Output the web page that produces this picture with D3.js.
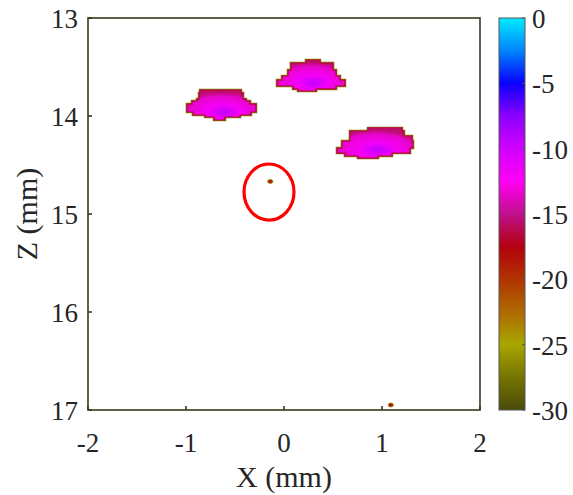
<!DOCTYPE html>
<html><head><meta charset="utf-8">
<script src="https://cdn.jsdelivr.net/npm/d3@7"></script>
<style>html,body{margin:0;padding:0;background:#fff;}svg{display:block;}</style>
</head><body>
<script>
// ---- data ----
const xTicks = [-2, -1, 0, 1, 2];
const zTicks = [13, 14, 15, 16, 17];
const cbTicks = [0, -5, -10, -15, -20, -25, -30];
const cmapValues = [0, -2.5, -5, -7.5, -10, -12.5, -15, -17.5, -20, -22.5, -25, -27.5, -30];
const cmapColors = ["#00ecff", "#0084ff", "#0a00ff", "#8c00ff", "#d000ff", "#ff00f4", "#c0108c", "#b4000e", "#b03400", "#b06a00", "#a8a600", "#767400", "#4a4a0c"];
// blob rows: [zTop, zBottom, xLeft, xRight] (mm)
const blob1 = [[13.735,13.765,-0.857,-0.439],[13.765,13.827,-0.867,-0.418],[13.827,13.847,-0.888,-0.388],[13.847,13.878,-0.939,-0.347],[13.878,13.959,-0.990,-0.286],[13.959,13.990,-0.929,-0.337],[13.990,14.010,-0.806,-0.449],[14.010,14.041,-0.714,-0.602]];
const blob2 = [[13.429,13.459,0.224,0.367],[13.459,13.531,0.071,0.500],[13.531,13.592,0.041,0.531],[13.592,13.633,-0.020,0.571],[13.633,13.694,-0.071,0.622],[13.694,13.724,0.092,0.531],[13.724,13.745,0.143,0.327]];
const blob3 = [[14.122,14.153,0.857,1.204],[14.153,14.204,0.673,1.224],[14.204,14.255,0.673,1.306],[14.255,14.327,0.592,1.316],[14.327,14.378,0.541,1.286],[14.378,14.408,0.622,1.102],[14.408,14.429,0.755,0.959]];
const blobs = [blob1, blob2, blob3];
const blobLevels = [-9.5, -12, -13.5, -15.5]; // center -> edge values (dB)
const dots = [[-0.14, 14.668, -19], [1.09, 16.949, -18]]; // x, z, value
const circle = {x: -0.153, z: 14.776, rx: 0.255, rz: 0.286};

// ---- layout ----
const W = 573, H = 495;
const svg = d3.select("body").append("svg").attr("width", W).attr("height", H);
const x = d3.scaleLinear().domain([-2, 2]).range([88, 480]);
const z = d3.scaleLinear().domain([13, 17]).range([18, 410]);
const cb = d3.scaleLinear().domain([-30, 0]).range([410, 18]);
const cmap = d3.scaleLinear().domain(cmapValues).range(cmapColors).interpolate(d3.interpolateRgb).clamp(true);
const font = "'Liberation Serif', 'Times New Roman', Times, serif";
const textColor = "#262626";
const frameColor = "#3a3a1c";

const defs = svg.append("defs");
const rg = defs.append("radialGradient").attr("id", "blobGrad")
  .attr("cx", "50%").attr("cy", "70%").attr("r", "62%").attr("fx", "55%").attr("fy", "74%");
blobLevels.forEach((v, i) => rg.append("stop").attr("offset", [0, 0.4, 0.8, 1][i]).attr("stop-color", cmap(v)));
const lg = defs.append("linearGradient").attr("id", "cbGrad").attr("x1", 0).attr("y1", 0).attr("x2", 0).attr("y2", 1);
cmapValues.forEach(v => lg.append("stop").attr("offset", (cb(v) - 18) / 392).attr("stop-color", cmap(v)));

defs.append("clipPath").attr("id", "plotClip").append("rect")
  .attr("x", x(-2)).attr("y", z(13)).attr("width", x(2) - x(-2)).attr("height", z(17) - z(13));

function blobPath(rows) {
  const right = [], left = [];
  rows.forEach(r => {
    right.push([x(r[3]), z(r[0])], [x(r[3]), z(r[1])]);
    left.push([x(r[2]), z(r[0])], [x(r[2]), z(r[1])]);
  });
  const pts = right.concat(left.reverse());
  return "M" + pts.map(p => p.join(",")).join("L") + "Z";
}
const g = svg.append("g").attr("clip-path", "url(#plotClip)");
blobs.forEach(rows => {
  g.append("path").attr("d", blobPath(rows)).attr("fill", "none")
    .attr("stroke", cmap(-27)).attr("stroke-width", 2.6).attr("stroke-linejoin", "miter");
  g.append("path").attr("d", blobPath(rows)).attr("fill", "url(#blobGrad)")
    .attr("stroke", cmap(-16.5)).attr("stroke-width", 1.2);
});
dots.forEach(d => {
  g.append("ellipse").attr("cx", x(d[0])).attr("cy", z(d[1])).attr("rx", 2.6).attr("ry", 2)
    .attr("fill", cmap(d[2])).attr("stroke", cmap(-26)).attr("stroke-width", 0.8);
});
g.append("ellipse").attr("cx", x(circle.x)).attr("cy", z(circle.z))
  .attr("rx", x(circle.x + circle.rx) - x(circle.x)).attr("ry", z(circle.z + circle.rz) - z(circle.z))
  .attr("fill", "none").attr("stroke", "#ff0000").attr("stroke-width", 3.2);

svg.append("rect").attr("x", x(-2)).attr("y", z(13)).attr("width", x(2) - x(-2)).attr("height", z(17) - z(13))
  .attr("fill", "none").attr("stroke", frameColor).attr("stroke-width", 1.6);
const xt = svg.append("g");
xTicks.forEach(t => {
  xt.append("line").attr("x1", x(t)).attr("x2", x(t)).attr("y1", z(17)).attr("y2", z(17) - 4).attr("stroke", frameColor).attr("stroke-width", 1.6);
  xt.append("text").attr("x", x(t)).attr("y", 452).attr("text-anchor", "middle")
    .attr("font-family", font).attr("font-size", 27).attr("fill", textColor).text(t);
});
zTicks.forEach(t => {
  xt.append("line").attr("x1", x(-2)).attr("x2", x(-2) + 4).attr("y1", z(t)).attr("y2", z(t)).attr("stroke", frameColor).attr("stroke-width", 1.6);
  xt.append("text").attr("x", 78).attr("y", z(t) + 10).attr("text-anchor", "end")
    .attr("font-family", font).attr("font-size", 27).attr("fill", textColor).text(t);
});
svg.append("text").attr("x", x(0)).attr("y", 487).attr("text-anchor", "middle")
  .attr("font-family", font).attr("font-size", 30).attr("fill", textColor).text("X (mm)");
svg.append("text").attr("transform", `translate(37,${z(15)}) rotate(-90)`).attr("text-anchor", "middle")
  .attr("font-family", font).attr("font-size", 30).attr("fill", textColor).text("Z (mm)");

const cbx = 499, cbw = 26;
svg.append("rect").attr("x", cbx).attr("y", cb(0)).attr("width", cbw).attr("height", cb(-30) - cb(0))
  .attr("fill", "url(#cbGrad)").attr("stroke", "#555555").attr("stroke-width", 1);
cbTicks.forEach(t => {
  svg.append("line").attr("x1", cbx + cbw).attr("x2", cbx + cbw - 3).attr("y1", cb(t)).attr("y2", cb(t)).attr("stroke", "#555555").attr("stroke-width", 1);
  svg.append("text").attr("x", cbx + cbw + 7).attr("y", cb(t) + 10)
    .attr("font-family", font).attr("font-size", 27).attr("fill", textColor).text(t);
});
</script>
</body></html>
